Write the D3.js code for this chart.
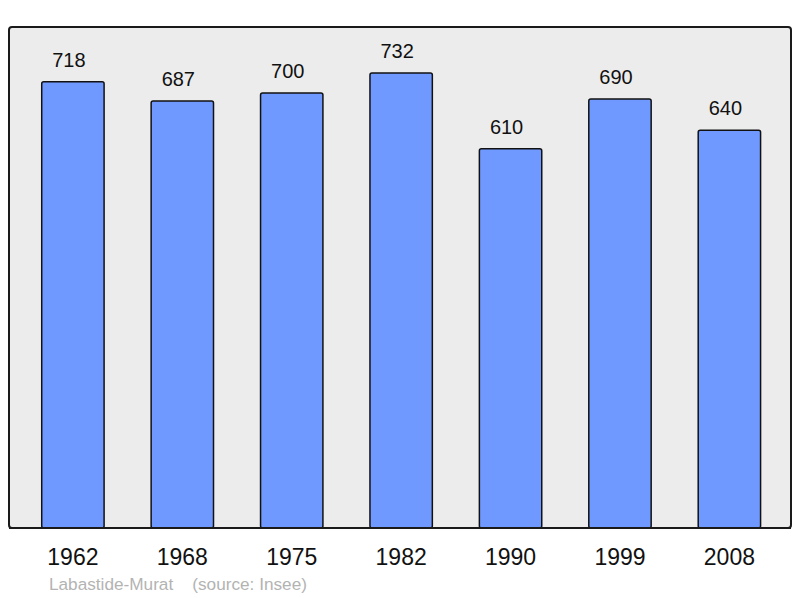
<!DOCTYPE html>
<html>
<head>
<meta charset="utf-8">
<script src="https://cdn.jsdelivr.net/npm/d3@7"></script>
<style>
  body { margin: 0; background: #fff; }
  text { font-family: "Liberation Sans", Arial, sans-serif; }
</style>
</head>
<body>
<div id="chart"></div>
<script>
var years = ["1962", "1968", "1975", "1982", "1990", "1999", "2008"];
var population = [718, 687, 700, 732, 610, 690, 640];
var place = "Labastide-Murat";
var source = "(source: Insee)";

var width = 800, height = 598;
var panel = {left: 9, top: 27, right: 791, bottom: 528};

var svg = d3.select("#chart")
  .append("svg")
  .attr("width", width)
  .attr("height", height);

svg.append("rect")
  .attr("x", panel.left)
  .attr("y", panel.top)
  .attr("width", panel.right - panel.left)
  .attr("height", panel.bottom - panel.top)
  .attr("rx", 3)
  .attr("fill", "#ececec")
  .attr("stroke", "#1a1a1a")
  .attr("stroke-width", 2);

var xScale = d3.scaleBand()
  .domain(years)
  .range([8.9, 793.4])
  .paddingInner(0.43)
  .paddingOuter(0.3);

var yScale = d3.scaleLinear()
  .domain([0, 806])
  .range([panel.bottom, panel.top]);

var data = years.map(function(y, i) { return {year: y, pop: population[i]}; });

svg.selectAll("rect.bar")
  .data(data)
  .enter()
  .append("rect")
    .attr("class", "bar")
    .attr("x", function(d) { return xScale(d.year); })
    .attr("y", function(d) { return yScale(d.pop); })
    .attr("width", xScale.bandwidth())
    .attr("height", function(d) { return panel.bottom - yScale(d.pop); })
    .attr("rx", 2)
    .attr("fill", "#7099ff")
    .attr("stroke", "#111")
    .attr("stroke-width", 1.5);

svg.selectAll("text.val")
  .data(data)
  .enter()
  .append("text")
    .attr("class", "val")
    .attr("x", function(d) { return xScale(d.year) + xScale.bandwidth() / 2 - 4; })
    .attr("y", function(d) { return yScale(d.pop) - 15; })
    .attr("text-anchor", "middle")
    .style("font-size", "20px")
    .attr("fill", "#111")
    .text(function(d) { return d.pop; });

// redraw panel bottom border on top of bars
svg.append("line")
  .attr("x1", panel.left)
  .attr("x2", panel.right)
  .attr("y1", panel.bottom)
  .attr("y2", panel.bottom)
  .attr("stroke", "#1a1a1a")
  .attr("stroke-width", 2);

var xAxis = svg.append("g")
  .attr("transform", "translate(0," + panel.bottom + ")")
  .call(d3.axisBottom(xScale).tickSize(0).tickPadding(21));
xAxis.select(".domain").remove();
xAxis.selectAll("text")
  .style("font-size", "23px")
  .style("font-family", "'Liberation Sans', Arial, sans-serif")
  .attr("fill", "#111");

svg.append("text")
  .attr("x", 49)
  .attr("y", 590)
  .style("font-size", "17.2px")
  .attr("fill", "#b3b3b3")
  .attr("xml:space", "preserve")
  .text(place + "    " + source);
</script>
</body>
</html>
